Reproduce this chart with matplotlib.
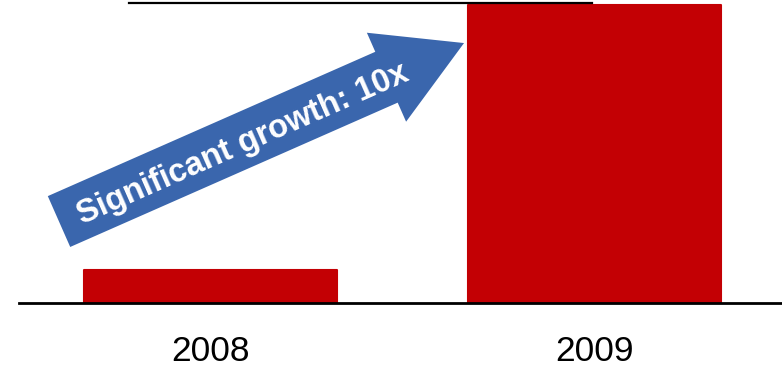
import matplotlib
matplotlib.use("Agg")
import matplotlib.pyplot as plt
from matplotlib.lines import Line2D

plt.rcParams['font.family'] = ['Liberation Sans', 'DejaVu Sans']

# sales volume per year (relative units)
years = ["2008", "2009"]
sales = [1.0, 9.0]

BAR_RED = "#C30004"
ARROW_BLUE = "#3A66AD"

fig = plt.figure(figsize=(7.82, 3.72), dpi=100)
ax = fig.add_axes([19 / 782, 69 / 372, 763 / 782, 303 / 372])

xpos = list(range(len(years)))
ax.bar(xpos, sales, width=0.66, color=BAR_RED, edgecolor=BAR_RED,
       linewidth=1.5, joinstyle="round", zorder=1)

ax.set_xlim(-0.4987, 1.4883)
ax.set_ylim(0, 9.15)

ax.set_xticks(xpos, years)
ax.tick_params(axis="x", length=0, pad=23, labelsize=25.5)
ax.set_yticks([])
for side in ["top", "left", "right"]:
    ax.spines[side].set_visible(False)
ax.spines["bottom"].set_linewidth(2.0)
ax.spines["bottom"].set_color("black")

# growth arrow between the two bars
arrow_tail = (-0.3945, 2.46)
arrow_tip = (0.6602, 7.85)
ax.annotate("", xy=arrow_tip, xytext=arrow_tail,
            arrowprops=dict(arrowstyle="simple,head_length=61,head_width=70,tail_width=40",
                            mutation_scale=1, color=ARROW_BLUE, shrinkA=0, shrinkB=0,
                            linewidth=0),
            zorder=3)
ax.text(0.085, 4.80, "Significant growth: 10x", rotation=23.8,
        rotation_mode="anchor", ha="center", va="center",
        color="white", fontsize=23.5, fontweight="bold", zorder=4)

# title underline (title text sits above the visible area)
fig.add_artist(Line2D([129 / 782, 592 / 782], [1 - 3 / 372, 1 - 3 / 372],
                      transform=fig.transFigure, color="black", linewidth=1.6))

fig.savefig("out.png", dpi=100)
